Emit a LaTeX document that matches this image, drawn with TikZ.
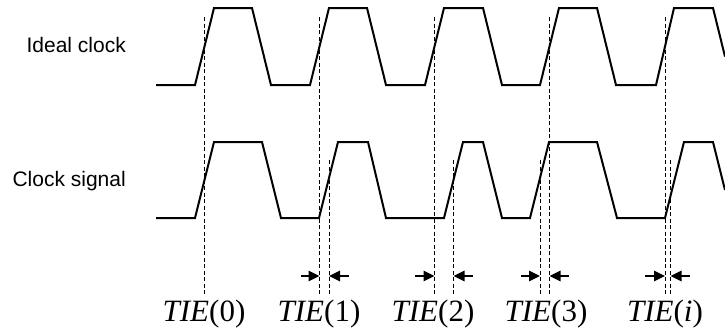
\documentclass[tikz,border=0pt]{standalone}
\usepackage{fontspec}
\setmainfont{Liberation Serif}
\newfontfamily\arialfont{Liberation Sans}
\usetikzlibrary{arrows.meta}
\begin{document}
\begin{tikzpicture}[x=1pt,y=-1pt,
  sig/.style={line width=2pt,line join=miter},
  guide/.style={line width=0.9pt,dash pattern=on 4pt off 2.5pt},
  tiearrow/.style={line width=1.4pt,-{Triangle[length=11pt,width=10.5pt]}},
  rowlabel/.style={anchor=base east,inner sep=0pt,font=\arialfont\fontsize{21}{25}\selectfont},
  tielabel/.style={anchor=base,inner sep=0pt,font=\fontsize{31}{35}\selectfont}]
\useasboundingbox (0,0) rectangle (725,335);
% labels
\node[rowlabel] (lideal) at (126,52.7) {Ideal clock};
\node[rowlabel] (lclock) at (126,186.7) {Clock signal};
% ideal clock
\draw[sig] (156,85) -- (195,85) -- (214,8) -- (252,8) -- (271,85)
  -- (310,85) -- (329,8) -- (367,8) -- (386,85)
  -- (425,85) -- (444,8) -- (483,8) -- (502,85)
  -- (540,85) -- (559,8) -- (597,8) -- (616,85)
  -- (656,85) -- (674,8) -- (713,8) -- (725,56.6);
% clock signal
\draw[sig] (156,218) -- (195,218) -- (214,142) -- (262,142) -- (281,218)
  -- (319,218) -- (338,142) -- (368,142) -- (386,218)
  -- (444,218) -- (463,142) -- (483,142) -- (502,218)
  -- (530,218) -- (549,142) -- (597,142) -- (617,218)
  -- (665,218) -- (684,142) -- (713,142) -- (725,190);
% ideal guide lines
\foreach \n/\x in {0/204.5,1/319.5,2/434.5,3/549.5,4/665}{
  \coordinate (it\n) at (\x,17);
  \coordinate (ib\n) at (\x,295);
  \draw[guide] (it\n) -- (ib\n);
}
% real guide lines
\foreach \n/\x in {1/329,2/453.5,3/540,4/670.5}{
  \coordinate (rt\n) at (\x,160);
  \coordinate (rb\n) at (\x,295);
  \draw[guide] (rt\n) -- (rb\n);
}
% arrows
\foreach \n/\ta/\pa/\pb/\tb in {1/301/319.5/329/349, 2/415/434.5/453.5/473, 3/521/540/549.5/569, 4/645/665/670.5/690}{
  \coordinate (al\n) at (\ta,276);
  \coordinate (pl\n) at (\pa,276);
  \coordinate (pr\n) at (\pb,276);
  \coordinate (ar\n) at (\tb,276);
  \draw[tiearrow] (al\n) -- (pl\n);
  \draw[tiearrow] (ar\n) -- (pr\n);
}
% TIE labels
\node[tielabel] (t0) at (204,321.5) {\textit{TIE}(0)};
\node[tielabel] (t1) at (319,321.5) {\textit{TIE}(1)};
\node[tielabel] (t2) at (433,321.5) {\textit{TIE}(2)};
\node[tielabel] (t3) at (546,321.5) {\textit{TIE}(3)};
\node[tielabel] (t4) at (665,321.5) {\textit{TIE}(\textit{i})};
\end{tikzpicture}
\end{document}
